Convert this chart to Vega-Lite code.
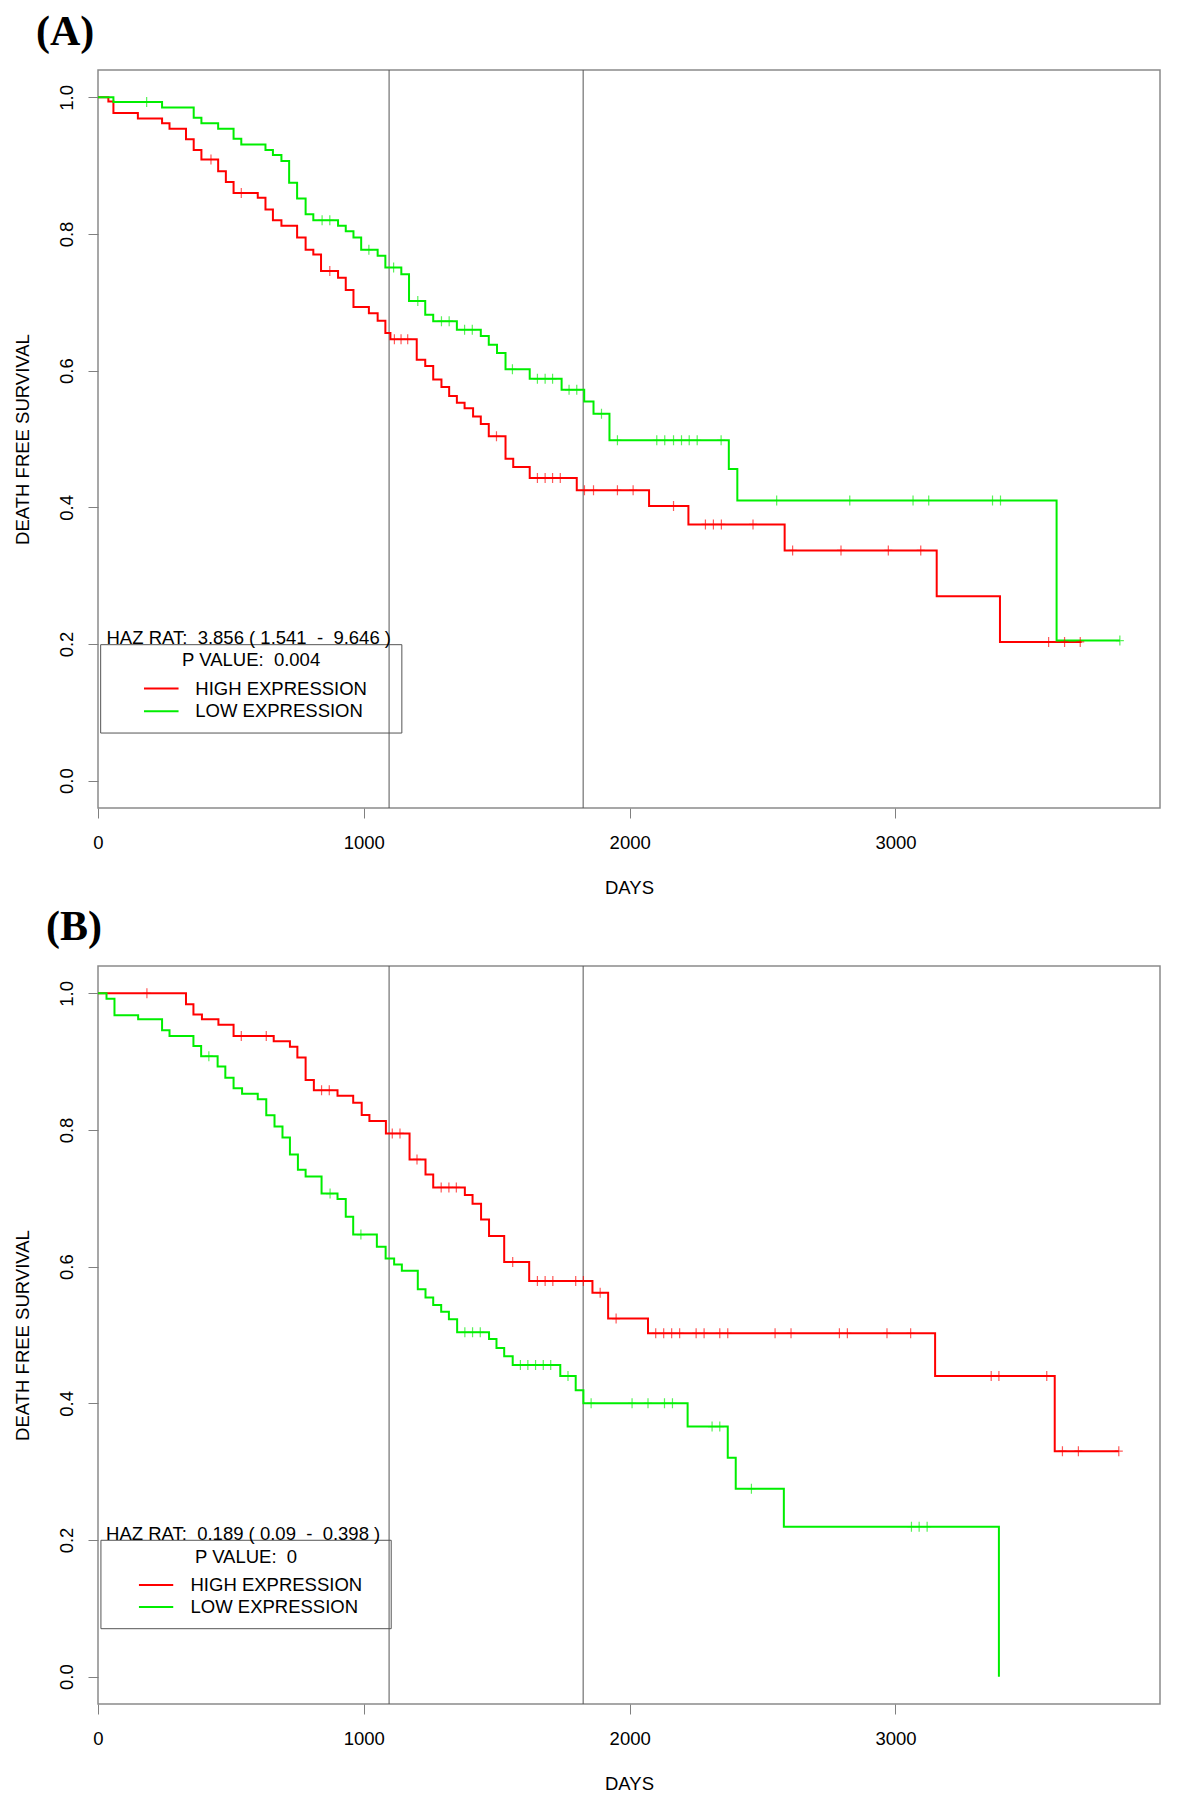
{
  "$schema": "https://vega.github.io/schema/vega-lite/v6.json",
  "background": "white",
  "padding": {"left": 12, "top": 9, "right": 5, "bottom": 5},
  "spacing": 6,
  "config": {
    "font": "Liberation Sans",
    "view": {"stroke": "#8a8a8a", "strokeWidth": 1.5},
    "axis": {
      "grid": false, "domain": false, "tickSize": 10, "tickColor": "#808080", "tickWidth": 1,
      "labelFont": "Liberation Sans", "labelFontSize": 18.5, "labelColor": "#000000",
      "labelFlush": false, "labelOverlap": false,
      "titleFont": "Liberation Sans", "titleFontSize": 18.5, "titleFontWeight": "normal", "titleColor": "#000000"
    },
    "axisX": {"labelPadding": 30, "labelBaseline": "alphabetic", "labelAlign": "center", "titleX": 531, "titleY": 85, "titleBaseline": "alphabetic", "titleAlign": "center"},
    "axisY": {"labelPadding": 16, "labelAngle": -90, "labelAlign": "center", "labelBaseline": "alphabetic", "titleX": -70, "titleY": 369, "titleAngle": -90, "titleAlign": "center", "titleBaseline": "alphabetic"},
    "title": {"anchor": "start", "frame": "group", "font": "Liberation Serif", "fontSize": 42, "fontWeight": "bold", "color": "#000000", "baseline": "alphabetic"},
    "text": {"font": "Liberation Sans", "fontSize": 18.5, "color": "#000000"}
  },
  "datasets": {
    "yearLines": [{"day": 1095}, {"day": 1825}],
    "stepsA": [
      {"group": "HIGH EXPRESSION", "day": 0, "surv": 1.0},
      {"group": "HIGH EXPRESSION", "day": 39, "surv": 0.994},
      {"group": "HIGH EXPRESSION", "day": 58, "surv": 0.977},
      {"group": "HIGH EXPRESSION", "day": 150, "surv": 0.969},
      {"group": "HIGH EXPRESSION", "day": 241, "surv": 0.962},
      {"group": "HIGH EXPRESSION", "day": 269, "surv": 0.954},
      {"group": "HIGH EXPRESSION", "day": 331, "surv": 0.9385},
      {"group": "HIGH EXPRESSION", "day": 360, "surv": 0.923},
      {"group": "HIGH EXPRESSION", "day": 389, "surv": 0.909},
      {"group": "HIGH EXPRESSION", "day": 452, "surv": 0.892},
      {"group": "HIGH EXPRESSION", "day": 481, "surv": 0.876},
      {"group": "HIGH EXPRESSION", "day": 510, "surv": 0.86},
      {"group": "HIGH EXPRESSION", "day": 601, "surv": 0.853},
      {"group": "HIGH EXPRESSION", "day": 630, "surv": 0.836},
      {"group": "HIGH EXPRESSION", "day": 658, "surv": 0.82},
      {"group": "HIGH EXPRESSION", "day": 690, "surv": 0.812},
      {"group": "HIGH EXPRESSION", "day": 749, "surv": 0.795},
      {"group": "HIGH EXPRESSION", "day": 781, "surv": 0.777},
      {"group": "HIGH EXPRESSION", "day": 810, "surv": 0.77},
      {"group": "HIGH EXPRESSION", "day": 839, "surv": 0.746},
      {"group": "HIGH EXPRESSION", "day": 903, "surv": 0.736},
      {"group": "HIGH EXPRESSION", "day": 932, "surv": 0.718},
      {"group": "HIGH EXPRESSION", "day": 961, "surv": 0.693},
      {"group": "HIGH EXPRESSION", "day": 1019, "surv": 0.684},
      {"group": "HIGH EXPRESSION", "day": 1052, "surv": 0.673},
      {"group": "HIGH EXPRESSION", "day": 1081, "surv": 0.655},
      {"group": "HIGH EXPRESSION", "day": 1100, "surv": 0.646},
      {"group": "HIGH EXPRESSION", "day": 1199, "surv": 0.616},
      {"group": "HIGH EXPRESSION", "day": 1231, "surv": 0.607},
      {"group": "HIGH EXPRESSION", "day": 1261, "surv": 0.587},
      {"group": "HIGH EXPRESSION", "day": 1292, "surv": 0.576},
      {"group": "HIGH EXPRESSION", "day": 1321, "surv": 0.563},
      {"group": "HIGH EXPRESSION", "day": 1350, "surv": 0.553},
      {"group": "HIGH EXPRESSION", "day": 1379, "surv": 0.545},
      {"group": "HIGH EXPRESSION", "day": 1411, "surv": 0.533},
      {"group": "HIGH EXPRESSION", "day": 1440, "surv": 0.522},
      {"group": "HIGH EXPRESSION", "day": 1470, "surv": 0.504},
      {"group": "HIGH EXPRESSION", "day": 1533, "surv": 0.471},
      {"group": "HIGH EXPRESSION", "day": 1562, "surv": 0.459},
      {"group": "HIGH EXPRESSION", "day": 1624, "surv": 0.443},
      {"group": "HIGH EXPRESSION", "day": 1801, "surv": 0.425},
      {"group": "HIGH EXPRESSION", "day": 2073, "surv": 0.402},
      {"group": "HIGH EXPRESSION", "day": 2221, "surv": 0.375},
      {"group": "HIGH EXPRESSION", "day": 2583, "surv": 0.337},
      {"group": "HIGH EXPRESSION", "day": 3155, "surv": 0.27},
      {"group": "HIGH EXPRESSION", "day": 3393, "surv": 0.203},
      {"group": "HIGH EXPRESSION", "day": 3700, "surv": 0.203},
      {"group": "LOW EXPRESSION", "day": 0, "surv": 1.0},
      {"group": "LOW EXPRESSION", "day": 58, "surv": 0.993},
      {"group": "LOW EXPRESSION", "day": 241, "surv": 0.985},
      {"group": "LOW EXPRESSION", "day": 360, "surv": 0.97},
      {"group": "LOW EXPRESSION", "day": 389, "surv": 0.962},
      {"group": "LOW EXPRESSION", "day": 452, "surv": 0.954},
      {"group": "LOW EXPRESSION", "day": 510, "surv": 0.9395},
      {"group": "LOW EXPRESSION", "day": 539, "surv": 0.931},
      {"group": "LOW EXPRESSION", "day": 630, "surv": 0.923},
      {"group": "LOW EXPRESSION", "day": 658, "surv": 0.9156},
      {"group": "LOW EXPRESSION", "day": 690, "surv": 0.907},
      {"group": "LOW EXPRESSION", "day": 719, "surv": 0.875},
      {"group": "LOW EXPRESSION", "day": 749, "surv": 0.852},
      {"group": "LOW EXPRESSION", "day": 781, "surv": 0.829},
      {"group": "LOW EXPRESSION", "day": 810, "surv": 0.82},
      {"group": "LOW EXPRESSION", "day": 903, "surv": 0.812},
      {"group": "LOW EXPRESSION", "day": 932, "surv": 0.804},
      {"group": "LOW EXPRESSION", "day": 961, "surv": 0.795},
      {"group": "LOW EXPRESSION", "day": 990, "surv": 0.777},
      {"group": "LOW EXPRESSION", "day": 1052, "surv": 0.768},
      {"group": "LOW EXPRESSION", "day": 1081, "surv": 0.751},
      {"group": "LOW EXPRESSION", "day": 1141, "surv": 0.741},
      {"group": "LOW EXPRESSION", "day": 1170, "surv": 0.702},
      {"group": "LOW EXPRESSION", "day": 1231, "surv": 0.682},
      {"group": "LOW EXPRESSION", "day": 1261, "surv": 0.6725},
      {"group": "LOW EXPRESSION", "day": 1350, "surv": 0.66},
      {"group": "LOW EXPRESSION", "day": 1440, "surv": 0.6506},
      {"group": "LOW EXPRESSION", "day": 1470, "surv": 0.638},
      {"group": "LOW EXPRESSION", "day": 1501, "surv": 0.626},
      {"group": "LOW EXPRESSION", "day": 1533, "surv": 0.602},
      {"group": "LOW EXPRESSION", "day": 1624, "surv": 0.588},
      {"group": "LOW EXPRESSION", "day": 1744, "surv": 0.572},
      {"group": "LOW EXPRESSION", "day": 1829, "surv": 0.555},
      {"group": "LOW EXPRESSION", "day": 1864, "surv": 0.537},
      {"group": "LOW EXPRESSION", "day": 1924, "surv": 0.498},
      {"group": "LOW EXPRESSION", "day": 2373, "surv": 0.456},
      {"group": "LOW EXPRESSION", "day": 2405, "surv": 0.41},
      {"group": "LOW EXPRESSION", "day": 3606, "surv": 0.205},
      {"group": "LOW EXPRESSION", "day": 3844, "surv": 0.205}
    ],
    "censA": [
      {"group": "HIGH EXPRESSION", "day": 425, "surv": 0.909},
      {"group": "HIGH EXPRESSION", "day": 539, "surv": 0.86},
      {"group": "HIGH EXPRESSION", "day": 872, "surv": 0.746},
      {"group": "HIGH EXPRESSION", "day": 1115, "surv": 0.646},
      {"group": "HIGH EXPRESSION", "day": 1140, "surv": 0.646},
      {"group": "HIGH EXPRESSION", "day": 1165, "surv": 0.646},
      {"group": "HIGH EXPRESSION", "day": 1499, "surv": 0.504},
      {"group": "HIGH EXPRESSION", "day": 1653, "surv": 0.443},
      {"group": "HIGH EXPRESSION", "day": 1682, "surv": 0.443},
      {"group": "HIGH EXPRESSION", "day": 1710, "surv": 0.443},
      {"group": "HIGH EXPRESSION", "day": 1739, "surv": 0.443},
      {"group": "HIGH EXPRESSION", "day": 1830, "surv": 0.425},
      {"group": "HIGH EXPRESSION", "day": 1864, "surv": 0.425},
      {"group": "HIGH EXPRESSION", "day": 1954, "surv": 0.425},
      {"group": "HIGH EXPRESSION", "day": 2013, "surv": 0.425},
      {"group": "HIGH EXPRESSION", "day": 2165, "surv": 0.402},
      {"group": "HIGH EXPRESSION", "day": 2285, "surv": 0.375},
      {"group": "HIGH EXPRESSION", "day": 2315, "surv": 0.375},
      {"group": "HIGH EXPRESSION", "day": 2345, "surv": 0.375},
      {"group": "HIGH EXPRESSION", "day": 2464, "surv": 0.375},
      {"group": "HIGH EXPRESSION", "day": 2613, "surv": 0.337},
      {"group": "HIGH EXPRESSION", "day": 2795, "surv": 0.337},
      {"group": "HIGH EXPRESSION", "day": 2973, "surv": 0.337},
      {"group": "HIGH EXPRESSION", "day": 3095, "surv": 0.337},
      {"group": "HIGH EXPRESSION", "day": 3576, "surv": 0.203},
      {"group": "HIGH EXPRESSION", "day": 3636, "surv": 0.203},
      {"group": "HIGH EXPRESSION", "day": 3695, "surv": 0.203},
      {"group": "LOW EXPRESSION", "day": 183, "surv": 0.993},
      {"group": "LOW EXPRESSION", "day": 843, "surv": 0.82},
      {"group": "LOW EXPRESSION", "day": 872, "surv": 0.82},
      {"group": "LOW EXPRESSION", "day": 1019, "surv": 0.777},
      {"group": "LOW EXPRESSION", "day": 1112, "surv": 0.751},
      {"group": "LOW EXPRESSION", "day": 1203, "surv": 0.702},
      {"group": "LOW EXPRESSION", "day": 1292, "surv": 0.6725},
      {"group": "LOW EXPRESSION", "day": 1321, "surv": 0.6725},
      {"group": "LOW EXPRESSION", "day": 1379, "surv": 0.66},
      {"group": "LOW EXPRESSION", "day": 1408, "surv": 0.66},
      {"group": "LOW EXPRESSION", "day": 1559, "surv": 0.602},
      {"group": "LOW EXPRESSION", "day": 1653, "surv": 0.588},
      {"group": "LOW EXPRESSION", "day": 1682, "surv": 0.588},
      {"group": "LOW EXPRESSION", "day": 1710, "surv": 0.588},
      {"group": "LOW EXPRESSION", "day": 1772, "surv": 0.572},
      {"group": "LOW EXPRESSION", "day": 1801, "surv": 0.572},
      {"group": "LOW EXPRESSION", "day": 1894, "surv": 0.537},
      {"group": "LOW EXPRESSION", "day": 1954, "surv": 0.498},
      {"group": "LOW EXPRESSION", "day": 2102, "surv": 0.498},
      {"group": "LOW EXPRESSION", "day": 2132, "surv": 0.498},
      {"group": "LOW EXPRESSION", "day": 2165, "surv": 0.498},
      {"group": "LOW EXPRESSION", "day": 2195, "surv": 0.498},
      {"group": "LOW EXPRESSION", "day": 2224, "surv": 0.498},
      {"group": "LOW EXPRESSION", "day": 2254, "surv": 0.498},
      {"group": "LOW EXPRESSION", "day": 2344, "surv": 0.498},
      {"group": "LOW EXPRESSION", "day": 2553, "surv": 0.41},
      {"group": "LOW EXPRESSION", "day": 2828, "surv": 0.41},
      {"group": "LOW EXPRESSION", "day": 3066, "surv": 0.41},
      {"group": "LOW EXPRESSION", "day": 3125, "surv": 0.41},
      {"group": "LOW EXPRESSION", "day": 3365, "surv": 0.41},
      {"group": "LOW EXPRESSION", "day": 3395, "surv": 0.41},
      {"group": "LOW EXPRESSION", "day": 3844, "surv": 0.205}
    ],
    "stepsB": [
      {"group": "HIGH EXPRESSION", "day": 0, "surv": 1.0},
      {"group": "HIGH EXPRESSION", "day": 331, "surv": 0.984},
      {"group": "HIGH EXPRESSION", "day": 359, "surv": 0.969},
      {"group": "HIGH EXPRESSION", "day": 391, "surv": 0.962},
      {"group": "HIGH EXPRESSION", "day": 453, "surv": 0.954},
      {"group": "HIGH EXPRESSION", "day": 510, "surv": 0.9376},
      {"group": "HIGH EXPRESSION", "day": 661, "surv": 0.93},
      {"group": "HIGH EXPRESSION", "day": 722, "surv": 0.922},
      {"group": "HIGH EXPRESSION", "day": 750, "surv": 0.906},
      {"group": "HIGH EXPRESSION", "day": 781, "surv": 0.873},
      {"group": "HIGH EXPRESSION", "day": 812, "surv": 0.858},
      {"group": "HIGH EXPRESSION", "day": 901, "surv": 0.85},
      {"group": "HIGH EXPRESSION", "day": 960, "surv": 0.84},
      {"group": "HIGH EXPRESSION", "day": 992, "surv": 0.822},
      {"group": "HIGH EXPRESSION", "day": 1021, "surv": 0.813},
      {"group": "HIGH EXPRESSION", "day": 1083, "surv": 0.795},
      {"group": "HIGH EXPRESSION", "day": 1172, "surv": 0.757},
      {"group": "HIGH EXPRESSION", "day": 1232, "surv": 0.735},
      {"group": "HIGH EXPRESSION", "day": 1261, "surv": 0.716},
      {"group": "HIGH EXPRESSION", "day": 1380, "surv": 0.705},
      {"group": "HIGH EXPRESSION", "day": 1409, "surv": 0.692},
      {"group": "HIGH EXPRESSION", "day": 1441, "surv": 0.669},
      {"group": "HIGH EXPRESSION", "day": 1471, "surv": 0.645},
      {"group": "HIGH EXPRESSION", "day": 1528, "surv": 0.607},
      {"group": "HIGH EXPRESSION", "day": 1622, "surv": 0.579},
      {"group": "HIGH EXPRESSION", "day": 1860, "surv": 0.562},
      {"group": "HIGH EXPRESSION", "day": 1919, "surv": 0.524},
      {"group": "HIGH EXPRESSION", "day": 2069, "surv": 0.5025},
      {"group": "HIGH EXPRESSION", "day": 3149, "surv": 0.44},
      {"group": "HIGH EXPRESSION", "day": 3599, "surv": 0.33},
      {"group": "HIGH EXPRESSION", "day": 3840, "surv": 0.33},
      {"group": "LOW EXPRESSION", "day": 0, "surv": 1.0},
      {"group": "LOW EXPRESSION", "day": 32, "surv": 0.992},
      {"group": "LOW EXPRESSION", "day": 62, "surv": 0.968},
      {"group": "LOW EXPRESSION", "day": 151, "surv": 0.962},
      {"group": "LOW EXPRESSION", "day": 241, "surv": 0.946},
      {"group": "LOW EXPRESSION", "day": 269, "surv": 0.9376},
      {"group": "LOW EXPRESSION", "day": 359, "surv": 0.923},
      {"group": "LOW EXPRESSION", "day": 388, "surv": 0.908},
      {"group": "LOW EXPRESSION", "day": 450, "surv": 0.893},
      {"group": "LOW EXPRESSION", "day": 479, "surv": 0.8766},
      {"group": "LOW EXPRESSION", "day": 510, "surv": 0.861},
      {"group": "LOW EXPRESSION", "day": 542, "surv": 0.853},
      {"group": "LOW EXPRESSION", "day": 601, "surv": 0.845},
      {"group": "LOW EXPRESSION", "day": 633, "surv": 0.8215},
      {"group": "LOW EXPRESSION", "day": 664, "surv": 0.805},
      {"group": "LOW EXPRESSION", "day": 694, "surv": 0.789},
      {"group": "LOW EXPRESSION", "day": 722, "surv": 0.764},
      {"group": "LOW EXPRESSION", "day": 752, "surv": 0.742},
      {"group": "LOW EXPRESSION", "day": 781, "surv": 0.732},
      {"group": "LOW EXPRESSION", "day": 841, "surv": 0.707},
      {"group": "LOW EXPRESSION", "day": 901, "surv": 0.699},
      {"group": "LOW EXPRESSION", "day": 932, "surv": 0.673},
      {"group": "LOW EXPRESSION", "day": 960, "surv": 0.647},
      {"group": "LOW EXPRESSION", "day": 1049, "surv": 0.629},
      {"group": "LOW EXPRESSION", "day": 1082, "surv": 0.612},
      {"group": "LOW EXPRESSION", "day": 1114, "surv": 0.603},
      {"group": "LOW EXPRESSION", "day": 1143, "surv": 0.594},
      {"group": "LOW EXPRESSION", "day": 1203, "surv": 0.567},
      {"group": "LOW EXPRESSION", "day": 1232, "surv": 0.555},
      {"group": "LOW EXPRESSION", "day": 1261, "surv": 0.544},
      {"group": "LOW EXPRESSION", "day": 1291, "surv": 0.534},
      {"group": "LOW EXPRESSION", "day": 1320, "surv": 0.523},
      {"group": "LOW EXPRESSION", "day": 1351, "surv": 0.504},
      {"group": "LOW EXPRESSION", "day": 1471, "surv": 0.494},
      {"group": "LOW EXPRESSION", "day": 1499, "surv": 0.481},
      {"group": "LOW EXPRESSION", "day": 1528, "surv": 0.469},
      {"group": "LOW EXPRESSION", "day": 1560, "surv": 0.456},
      {"group": "LOW EXPRESSION", "day": 1739, "surv": 0.44},
      {"group": "LOW EXPRESSION", "day": 1797, "surv": 0.419},
      {"group": "LOW EXPRESSION", "day": 1826, "surv": 0.4},
      {"group": "LOW EXPRESSION", "day": 2218, "surv": 0.366},
      {"group": "LOW EXPRESSION", "day": 2369, "surv": 0.3205},
      {"group": "LOW EXPRESSION", "day": 2399, "surv": 0.275},
      {"group": "LOW EXPRESSION", "day": 2580, "surv": 0.2195},
      {"group": "LOW EXPRESSION", "day": 3389, "surv": 0.0}
    ],
    "censB": [
      {"group": "HIGH EXPRESSION", "day": 184, "surv": 1.0},
      {"group": "HIGH EXPRESSION", "day": 539, "surv": 0.9376},
      {"group": "HIGH EXPRESSION", "day": 633, "surv": 0.9376},
      {"group": "HIGH EXPRESSION", "day": 841, "surv": 0.858},
      {"group": "HIGH EXPRESSION", "day": 870, "surv": 0.858},
      {"group": "HIGH EXPRESSION", "day": 1107, "surv": 0.795},
      {"group": "HIGH EXPRESSION", "day": 1136, "surv": 0.795},
      {"group": "HIGH EXPRESSION", "day": 1200, "surv": 0.757},
      {"group": "HIGH EXPRESSION", "day": 1291, "surv": 0.716},
      {"group": "HIGH EXPRESSION", "day": 1320, "surv": 0.716},
      {"group": "HIGH EXPRESSION", "day": 1348, "surv": 0.716},
      {"group": "HIGH EXPRESSION", "day": 1560, "surv": 0.607},
      {"group": "HIGH EXPRESSION", "day": 1653, "surv": 0.579},
      {"group": "HIGH EXPRESSION", "day": 1682, "surv": 0.579},
      {"group": "HIGH EXPRESSION", "day": 1711, "surv": 0.579},
      {"group": "HIGH EXPRESSION", "day": 1797, "surv": 0.579},
      {"group": "HIGH EXPRESSION", "day": 1826, "surv": 0.579},
      {"group": "HIGH EXPRESSION", "day": 1889, "surv": 0.562},
      {"group": "HIGH EXPRESSION", "day": 1949, "surv": 0.524},
      {"group": "HIGH EXPRESSION", "day": 2098, "surv": 0.5025},
      {"group": "HIGH EXPRESSION", "day": 2128, "surv": 0.5025},
      {"group": "HIGH EXPRESSION", "day": 2158, "surv": 0.5025},
      {"group": "HIGH EXPRESSION", "day": 2188, "surv": 0.5025},
      {"group": "HIGH EXPRESSION", "day": 2250, "surv": 0.5025},
      {"group": "HIGH EXPRESSION", "day": 2280, "surv": 0.5025},
      {"group": "HIGH EXPRESSION", "day": 2339, "surv": 0.5025},
      {"group": "HIGH EXPRESSION", "day": 2369, "surv": 0.5025},
      {"group": "HIGH EXPRESSION", "day": 2547, "surv": 0.5025},
      {"group": "HIGH EXPRESSION", "day": 2607, "surv": 0.5025},
      {"group": "HIGH EXPRESSION", "day": 2789, "surv": 0.5025},
      {"group": "HIGH EXPRESSION", "day": 2819, "surv": 0.5025},
      {"group": "HIGH EXPRESSION", "day": 2968, "surv": 0.5025},
      {"group": "HIGH EXPRESSION", "day": 3057, "surv": 0.5025},
      {"group": "HIGH EXPRESSION", "day": 3360, "surv": 0.44},
      {"group": "HIGH EXPRESSION", "day": 3389, "surv": 0.44},
      {"group": "HIGH EXPRESSION", "day": 3569, "surv": 0.44},
      {"group": "HIGH EXPRESSION", "day": 3628, "surv": 0.33},
      {"group": "HIGH EXPRESSION", "day": 3688, "surv": 0.33},
      {"group": "HIGH EXPRESSION", "day": 3840, "surv": 0.33},
      {"group": "LOW EXPRESSION", "day": 417, "surv": 0.908},
      {"group": "LOW EXPRESSION", "day": 873, "surv": 0.707},
      {"group": "LOW EXPRESSION", "day": 989, "surv": 0.647},
      {"group": "LOW EXPRESSION", "day": 1380, "surv": 0.504},
      {"group": "LOW EXPRESSION", "day": 1409, "surv": 0.504},
      {"group": "LOW EXPRESSION", "day": 1438, "surv": 0.504},
      {"group": "LOW EXPRESSION", "day": 1589, "surv": 0.456},
      {"group": "LOW EXPRESSION", "day": 1617, "surv": 0.456},
      {"group": "LOW EXPRESSION", "day": 1646, "surv": 0.456},
      {"group": "LOW EXPRESSION", "day": 1675, "surv": 0.456},
      {"group": "LOW EXPRESSION", "day": 1703, "surv": 0.456},
      {"group": "LOW EXPRESSION", "day": 1768, "surv": 0.44},
      {"group": "LOW EXPRESSION", "day": 1855, "surv": 0.4},
      {"group": "LOW EXPRESSION", "day": 2009, "surv": 0.4},
      {"group": "LOW EXPRESSION", "day": 2069, "surv": 0.4},
      {"group": "LOW EXPRESSION", "day": 2131, "surv": 0.4},
      {"group": "LOW EXPRESSION", "day": 2161, "surv": 0.4},
      {"group": "LOW EXPRESSION", "day": 2310, "surv": 0.366},
      {"group": "LOW EXPRESSION", "day": 2339, "surv": 0.366},
      {"group": "LOW EXPRESSION", "day": 2458, "surv": 0.275},
      {"group": "LOW EXPRESSION", "day": 3060, "surv": 0.2195},
      {"group": "LOW EXPRESSION", "day": 3089, "surv": 0.2195},
      {"group": "LOW EXPRESSION", "day": 3119, "surv": 0.2195}
    ]
  },
  "vconcat": [
    {
      "width": 1062,
      "height": 738,
      "title": {"text": "(A)", "dx": -62, "offset": 16},
      "layer": [
        {
          "data": {"name": "yearLines"},
          "mark": {"type": "rule", "color": "#555555", "strokeWidth": 1},
          "encoding": {
            "x": {"field": "day", "type": "quantitative", "scale": {"domain": [0, 3995], "nice": false, "zero": false},
              "axis": {"values": [0, 1000, 2000, 3000], "format": "d", "title": "DAYS"}}
          }
        },
        {
          "data": {"name": "stepsA"},
          "mark": {"type": "line", "interpolate": "step-after", "strokeWidth": 2},
          "encoding": {
            "x": {"field": "day", "type": "quantitative", "scale": {"domain": [0, 3995], "nice": false, "zero": false},
              "axis": {"values": [0, 1000, 2000, 3000], "format": "d", "title": "DAYS"}},
            "y": {"field": "surv", "type": "quantitative", "scale": {"domain": [-0.04, 1.04], "nice": false, "zero": false},
              "axis": {"values": [0, 0.2, 0.4, 0.6, 0.8, 1.0], "format": ".1f", "title": "DEATH FREE SURVIVAL"}},
            "color": {"field": "group", "type": "nominal", "scale": {"domain": ["HIGH EXPRESSION", "LOW EXPRESSION"], "range": ["#ff0000", "#00ee00"]}, "legend": null}
          }
        },
        {
          "data": {"name": "censA"},
          "mark": {"type": "point", "shape": "M0,-1L0,1M-0.8,0L0.8,0", "size": 100, "filled": false, "strokeWidth": 1.2, "opacity": 0.65},
          "encoding": {
            "x": {"field": "day", "type": "quantitative"},
            "y": {"field": "surv", "type": "quantitative"},
            "color": {"field": "group", "type": "nominal", "legend": null}
          }
        },
        {
          "data": {"values": [{}]},
          "mark": {"type": "rect", "fill": null, "fillOpacity": 0, "stroke": "#555555", "strokeWidth": 1},
          "encoding": {"x": {"datum": 10}, "x2": {"datum": 1143}, "y": {"datum": 0.199}, "y2": {"datum": 0.0697}}
        },
        {
          "data": {"values": [{}]},
          "mark": {"type": "rule", "color": "#ff0000", "strokeWidth": 2},
          "encoding": {"x": {"datum": 173}, "x2": {"datum": 303}, "y": {"datum": 0.1347}}
        },
        {
          "data": {"values": [{}]},
          "mark": {"type": "rule", "color": "#00ee00", "strokeWidth": 2},
          "encoding": {"x": {"datum": 173}, "x2": {"datum": 303}, "y": {"datum": 0.1015}}
        },
        {
          "data": {"values": [{}]},
          "mark": {"type": "text", "text": "HAZ RAT:\u00a0 3.856 ( 1.541\u00a0 -\u00a0 9.646 )", "align": "center", "baseline": "middle"},
          "encoding": {"x": {"datum": 567}, "y": {"datum": 0.2088}}
        },
        {
          "data": {"values": [{}]},
          "mark": {"type": "text", "text": "P VALUE:\u00a0 0.004", "align": "center", "baseline": "middle"},
          "encoding": {"x": {"datum": 576}, "y": {"datum": 0.176}}
        },
        {
          "data": {"values": [{}]},
          "mark": {"type": "text", "text": "HIGH EXPRESSION", "align": "left", "baseline": "middle"},
          "encoding": {"x": {"datum": 366}, "y": {"datum": 0.1347}}
        },
        {
          "data": {"values": [{}]},
          "mark": {"type": "text", "text": "LOW EXPRESSION", "align": "left", "baseline": "middle"},
          "encoding": {"x": {"datum": 366}, "y": {"datum": 0.1015}}
        }
      ]
    },
    {
      "width": 1062,
      "height": 738,
      "title": {"text": "(B)", "dx": -52, "offset": 17},
      "layer": [
        {
          "data": {"name": "yearLines"},
          "mark": {"type": "rule", "color": "#555555", "strokeWidth": 1},
          "encoding": {
            "x": {"field": "day", "type": "quantitative", "scale": {"domain": [0, 3995], "nice": false, "zero": false},
              "axis": {"values": [0, 1000, 2000, 3000], "format": "d", "title": "DAYS"}}
          }
        },
        {
          "data": {"name": "stepsB"},
          "mark": {"type": "line", "interpolate": "step-after", "strokeWidth": 2},
          "encoding": {
            "x": {"field": "day", "type": "quantitative", "scale": {"domain": [0, 3995], "nice": false, "zero": false},
              "axis": {"values": [0, 1000, 2000, 3000], "format": "d", "title": "DAYS"}},
            "y": {"field": "surv", "type": "quantitative", "scale": {"domain": [-0.04, 1.04], "nice": false, "zero": false},
              "axis": {"values": [0, 0.2, 0.4, 0.6, 0.8, 1.0], "format": ".1f", "title": "DEATH FREE SURVIVAL"}},
            "color": {"field": "group", "type": "nominal", "scale": {"domain": ["HIGH EXPRESSION", "LOW EXPRESSION"], "range": ["#ff0000", "#00ee00"]}, "legend": null}
          }
        },
        {
          "data": {"name": "censB"},
          "mark": {"type": "point", "shape": "M0,-1L0,1M-0.8,0L0.8,0", "size": 100, "filled": false, "strokeWidth": 1.2, "opacity": 0.65},
          "encoding": {
            "x": {"field": "day", "type": "quantitative"},
            "y": {"field": "surv", "type": "quantitative"},
            "color": {"field": "group", "type": "nominal", "legend": null}
          }
        },
        {
          "data": {"values": [{}]},
          "mark": {"type": "rect", "fill": null, "fillOpacity": 0, "stroke": "#555555", "strokeWidth": 1},
          "encoding": {"x": {"datum": 11}, "x2": {"datum": 1103}, "y": {"datum": 0.1996}, "y2": {"datum": 0.0702}}
        },
        {
          "data": {"values": [{}]},
          "mark": {"type": "rule", "color": "#ff0000", "strokeWidth": 2},
          "encoding": {"x": {"datum": 154}, "x2": {"datum": 283}, "y": {"datum": 0.1342}}
        },
        {
          "data": {"values": [{}]},
          "mark": {"type": "rule", "color": "#00ee00", "strokeWidth": 2},
          "encoding": {"x": {"datum": 154}, "x2": {"datum": 283}, "y": {"datum": 0.102}}
        },
        {
          "data": {"values": [{}]},
          "mark": {"type": "text", "text": "HAZ RAT:\u00a0 0.189 ( 0.09\u00a0 -\u00a0 0.398 )", "align": "center", "baseline": "middle"},
          "encoding": {"x": {"datum": 546}, "y": {"datum": 0.2084}}
        },
        {
          "data": {"values": [{}]},
          "mark": {"type": "text", "text": "P VALUE:\u00a0 0", "align": "center", "baseline": "middle"},
          "encoding": {"x": {"datum": 557}, "y": {"datum": 0.1756}}
        },
        {
          "data": {"values": [{}]},
          "mark": {"type": "text", "text": "HIGH EXPRESSION", "align": "left", "baseline": "middle"},
          "encoding": {"x": {"datum": 348}, "y": {"datum": 0.1342}}
        },
        {
          "data": {"values": [{}]},
          "mark": {"type": "text", "text": "LOW EXPRESSION", "align": "left", "baseline": "middle"},
          "encoding": {"x": {"datum": 348}, "y": {"datum": 0.102}}
        }
      ]
    }
  ]
}
